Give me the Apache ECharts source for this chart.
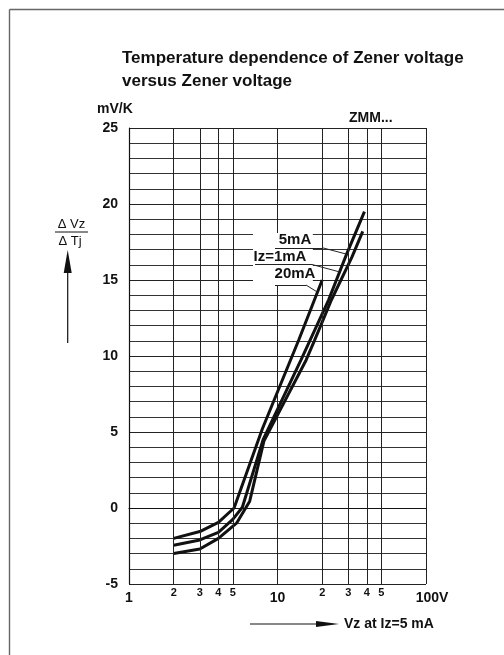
<!DOCTYPE html>
<html>
<head>
<meta charset="utf-8">
<script src="https://cdn.jsdelivr.net/npm/echarts@6/dist/echarts.min.js"></script>
<style>
html,body{margin:0;padding:0;background:#fff;}
#chart{width:504px;height:655px;}
</style>
</head>
<body>
<div id="chart"></div>
<script>
// ---- data ----
const curve20mA_V = [2, 3, 4, 5.1, 7.9, 13.9, 20];
const curve20mA_T = [-2.0, -1.55, -0.95, 0.0, 5.2, 11.05, 15.0];
const curve5mA_V  = [2, 3, 4, 5, 5.8, 8.0, 14.4, 22.1, 29.2, 38.5];
const curve5mA_T  = [-2.45, -2.1, -1.6, -0.75, 0.05, 4.5, 9.74, 13.7, 16.7, 19.5];
const curve1mA_V  = [2, 3, 4, 5.3, 6.5, 8.1, 15.6, 17.7, 23.1, 31.7, 37.5];
const curve1mA_T  = [-3.0, -2.7, -2.0, -1.0, 0.45, 4.4, 9.74, 11.0, 13.7, 16.5, 18.2];

const minorGridValues = [2, 3, 4, 5, 20, 30, 40, 50];
const minorGridLabels = ['2', '3', '4', '5', '2', '3', '4', '5'];

const labelNames  = ['5mA', 'Iz=1mA', '20mA'];
const labelAnchorV = [13.12, 10.39, 13.12];
const labelAnchorT = [17.63, 16.51, 15.39];

const FONT = '"Liberation Sans", Arial, Helvetica, sans-serif';
const INK = '#111';

function pairs(xs, ys) { return xs.map((x, i) => [x, ys[i]]); }

const chart = echarts.init(document.getElementById('chart'), null, {renderer: 'canvas'});

const curveStyle = {color: INK, width: 3};

const option = {
  animation: false,
  backgroundColor: '#fff',
  textStyle: {fontFamily: FONT},
  title: [{
    text: 'Temperature dependence of Zener voltage\nversus Zener voltage',
    left: 122, top: 47, padding: 0,
    textStyle: {fontFamily: FONT, fontSize: 17, fontWeight: 'bold', lineHeight: 23, color: INK}
  }],
  grid: {left: 129, right: 78, top: 128, bottom: 71, containLabel: false},
  xAxis: {
    type: 'log', logBase: 10, min: 1, max: 100,
    axisLine: {show: true, lineStyle: {color: INK, width: 1.2}},
    axisTick: {show: false},
    minorTick: {show: false},
    splitLine: {show: true, lineStyle: {color: '#222', width: 1}},
    axisLabel: {
      margin: 7, fontFamily: FONT, fontSize: 14, fontWeight: 'bold', color: INK,
      formatter: function (v) {
        const r = Math.round(v);
        if (r === 100) return '{u|100V}';
        return String(r);
      },
      rich: {u: {fontFamily: FONT, fontSize: 14, fontWeight: 'bold', color: INK, padding: [0, 0, 0, 12]}}
    }
  },
  yAxis: {
    type: 'value', min: -5, max: 25, interval: 5,
    axisLine: {show: true, lineStyle: {color: INK, width: 1.2}},
    axisTick: {show: false},
    minorTick: {show: false, splitNumber: 5},
    splitLine: {show: true, lineStyle: {color: '#222', width: 1}},
    minorSplitLine: {show: true, lineStyle: {color: '#333', width: 1}},
    axisLabel: {margin: 11, fontFamily: FONT, fontSize: 14, fontWeight: 'bold', color: INK}
  },
  series: [
    {
      name: 'minor grid', type: 'line', data: [], z: 1, silent: true,
      markLine: {
        silent: true, symbol: ['none', 'none'], animation: false,
        lineStyle: {color: '#222', width: 1, type: 'solid'},
        label: {show: true, position: 'start', formatter: '{b}', distance: 3,
                fontFamily: FONT, fontSize: 11, fontWeight: 'bold', color: INK},
        emphasis: {disabled: true},
        data: minorGridValues.map((v, i) => ({xAxis: v, name: minorGridLabels[i]}))
      }
    },
    {
      name: 'label box', type: 'line', data: [], z: 2, silent: true,
      markArea: {
        silent: true, animation: false,
        itemStyle: {color: '#fff', opacity: 1},
        data: [[{xAxis: 6.84, yAxis: 18.09}, {xAxis: 17.3, yAxis: 14.67}]]
      }
    },
    {name: '20mA', type: 'line', z: 3, symbol: 'none', lineStyle: curveStyle, data: pairs(curve20mA_V, curve20mA_T)},
    {name: '5mA', type: 'line', z: 3, symbol: 'none', lineStyle: curveStyle, data: pairs(curve5mA_V, curve5mA_T)},
    {name: 'Iz=1mA', type: 'line', z: 3, symbol: 'none', lineStyle: curveStyle, data: pairs(curve1mA_V, curve1mA_T)},
    {
      name: 'annotations', type: 'line', data: [], z: 4, silent: true,
      markLine: {
        silent: true, symbol: ['none', 'none'], animation: false,
        lineStyle: {color: '#222', width: 1, type: 'solid'},
        label: {show: false},
        emphasis: {disabled: true},
        data: [
          [{coord: [9.62, 17.11]}, {coord: [20.25, 17.11]}],
          [{coord: [20.25, 17.11]}, {coord: [29.2, 16.7]}],
          [{coord: [7.06, 16.02]}, {coord: [17.07, 16.02]}],
          [{coord: [17.07, 16.02]}, {coord: [26.2, 15.53]}],
          [{coord: [9.62, 14.67]}, {coord: [15.56, 14.67]}],
          [{coord: [15.56, 14.67]}, {coord: [18.6, 14.2]}]
        ]
      },
      markPoint: {
        silent: true, animation: false, symbol: 'circle', symbolSize: 0,
        label: {show: true, position: 'inside', formatter: '{b}',
                fontFamily: FONT, fontSize: 15, fontWeight: 'bold', color: INK},
        data: labelNames.map((n, i) => ({name: n, coord: [labelAnchorV[i], labelAnchorT[i]]}))
      }
    }
  ],
  graphic: [
    // frame
    {type: 'line', shape: {x1: 9.5, y1: 9.5, x2: 504, y2: 9.5}, style: {stroke: '#666', lineWidth: 1.4}},
    {type: 'line', shape: {x1: 9.5, y1: 9.5, x2: 9.5, y2: 655}, style: {stroke: '#666', lineWidth: 1.4}},
    // unit + type labels
    {type: 'text', style: {x: 97, y: 109, text: 'mV/K', fill: INK, font: 'bold 14px ' + FONT, verticalAlign: 'middle', align: 'left'}},
    {type: 'text', style: {x: 349, y: 118, text: 'ZMM...', fill: INK, font: 'bold 14px ' + FONT, verticalAlign: 'middle', align: 'left'}},
    // y quantity as fraction with arrow
    {type: 'text', style: {x: 71.5, y: 224.5, text: 'Δ Vz', fill: INK, font: '13px ' + FONT, verticalAlign: 'middle', align: 'center'}},
    {type: 'line', shape: {x1: 55, y1: 232, x2: 88, y2: 232}, style: {stroke: INK, lineWidth: 1}},
    {type: 'text', style: {x: 70, y: 241, text: 'Δ Tj', fill: INK, font: '13px ' + FONT, verticalAlign: 'middle', align: 'center'}},
    {type: 'polygon', shape: {points: [[67.7, 250], [63.7, 273], [71.7, 273]]}, style: {fill: INK}},
    {type: 'line', shape: {x1: 67.7, y1: 270, x2: 67.7, y2: 343}, style: {stroke: INK, lineWidth: 1.2}},
    // x quantity with arrow
    {type: 'line', shape: {x1: 250, y1: 624, x2: 320, y2: 624}, style: {stroke: INK, lineWidth: 1.2}},
    {type: 'polygon', shape: {points: [[316, 621], [339, 624], [316, 627]]}, style: {fill: INK}},
    {type: 'text', style: {x: 344, y: 624, text: 'Vz at Iz=5 mA', fill: INK, font: 'bold 14px ' + FONT, verticalAlign: 'middle', align: 'left'}}
  ]
};

chart.setOption(option);
</script>
</body>
</html>
